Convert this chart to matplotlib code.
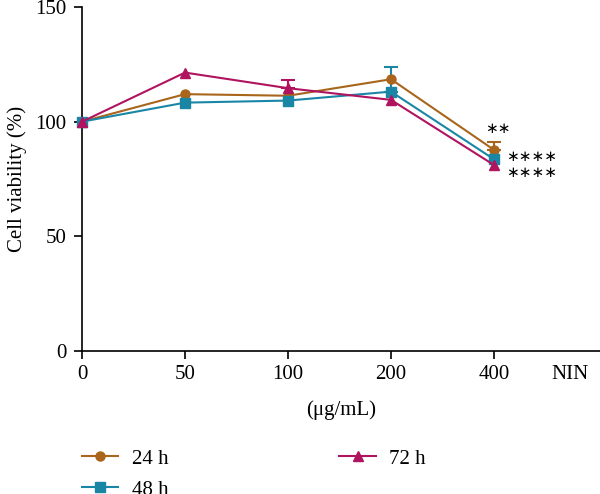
import matplotlib
matplotlib.use("Agg")
import matplotlib.pyplot as plt
import numpy as np

# ---- data ----
x_labels = ['0', '50', '100', '200', '400']
extra_label = 'NIN'
series_names = ['24 h', '48 h', '72 h']
v24 = [100, 112.0, 111.3, 118.5, 87.7]
v48 = [100, 108.3, 109.2, 113.1, 83.6]
v72 = [100, 121.4, 114.6, 109.5, 81.1]
err24 = [0, 0, 0, 0, 3.3]
err48 = [0, 0, 0, 10.6, 0]
err72 = [0, 0, 3.6, 0, 0]
sig_labels = ['∗∗', '∗∗∗∗', '∗∗∗∗']
sig_values = [97.2, 85.0, 77.8]

colors = ['#A8651B', '#1A86A6', '#B0145E']
markers = ['o', 's', '^']
msizes = [6.5, 7.5, 7.5]

plt.rcParams['font.family'] = ['Liberation Serif', 'DejaVu Serif']
plt.rcParams['font.size'] = 15

fig = plt.figure(figsize=(6, 4.94), dpi=100)
ax = fig.add_axes([82/600, 143/494, 518/600, 344/494])

xs = np.arange(len(x_labels))
handles = []
for vals, errs, c, m, ms, name in zip([v24, v48, v72], [err24, err48, err72],
                                      colors, markers, msizes, series_names):
    errs = np.array(errs, dtype=float)
    yerr = np.vstack([np.zeros_like(errs), errs])
    mask = errs > 0
    ax.errorbar(xs[mask], np.array(vals)[mask], yerr=yerr[:, mask], fmt='none',
                ecolor=c, elinewidth=1.5, capsize=5, capthick=1.5, zorder=2)
    h, = ax.plot(xs, vals, color=c, marker=m, markersize=ms, linewidth=1.5,
                 label=name, zorder=3, clip_on=False)
    handles.append(h)

sig_x = [4 - 0.09, 4 + 0.12, 4 + 0.12]
for lab, xv, yv in zip(sig_labels, sig_x, sig_values):
    ax.text(xv, yv, lab, ha='left', va='center', fontsize=11,
            family='DejaVu Sans')

ax.set_xlim(0, 518/103)
ax.set_ylim(0, 150)
ax.set_xticks(xs)
ax.set_xticklabels(x_labels)
ax.set_xticks([(570 - 82) / 103], minor=True)
ax.set_xticklabels([extra_label], minor=True)
ax.tick_params(axis='x', which='minor', length=0, pad=10)
ax.set_yticks([0, 50, 100, 150])
ax.tick_params(axis='both', which='major', direction='out', length=6, width=1.2,
               pad=5)
ax.tick_params(axis='x', which='major', pad=4)

for s in ['top', 'right']:
    ax.spines[s].set_visible(False)
for s in ['left', 'bottom']:
    ax.spines[s].set_linewidth(1.2)

ax.set_ylabel('Cell viability (%)', labelpad=6)
ax.set_xlabel('(μg/mL)', labelpad=12)

fig.legend(handles=handles, labels=series_names, ncol=2, frameon=False,
           loc='upper left', bbox_to_anchor=(82/600, 1 - 449/494),
           borderaxespad=0, borderpad=0, handlelength=1.75, handletextpad=0.65,
           columnspacing=8.2, labelspacing=0.55)

fig.savefig('out.png', dpi=100)
